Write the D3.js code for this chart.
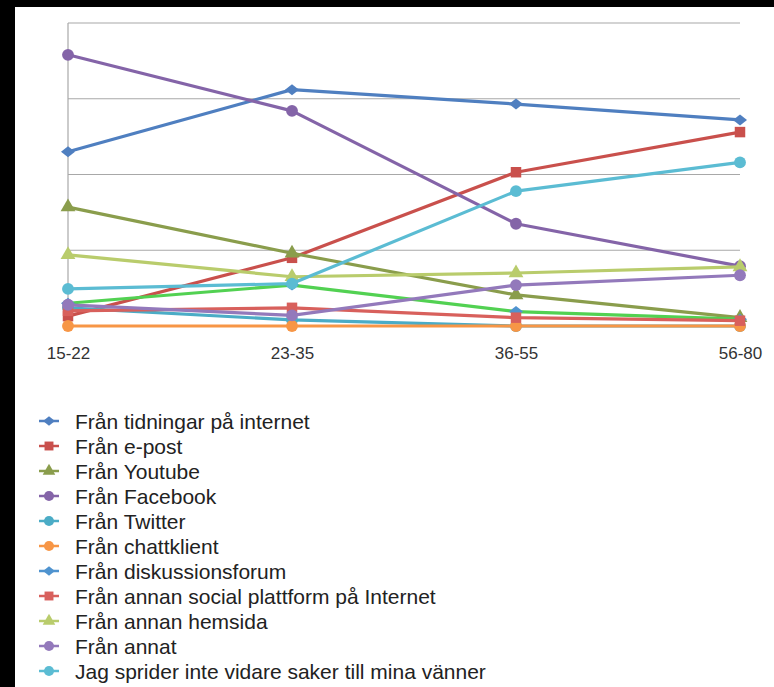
<!DOCTYPE html>
<html><head><meta charset="utf-8">
<script src="https://cdn.jsdelivr.net/npm/d3@7"></script>
<style>html,body{margin:0;padding:0;background:#000;}svg{display:block;}</style>
</head><body>
<script>
const categories = ["15-22", "23-35", "36-55", "56-80"];
const seriesNames = [
  "Från tidningar på internet",
  "Från e-post",
  "Från Youtube",
  "Från Facebook",
  "Från Twitter",
  "Från chattklient",
  "Från diskussionsforum",
  "Från annan social plattform på Internet",
  "Från annan hemsida",
  "Från annat",
  "Jag sprider inte vidare saker till mina vänner"
];
const tidningar   = [23.0, 31.2, 29.3, 27.2];
const epost       = [1.3, 9.0, 20.3, 25.6];
const youtube     = [15.7, 9.6, 4.1, 1.1];
const facebook    = [35.8, 28.4, 13.5, 7.9];
const twitter     = [2.4, 0.8, 0.0, 0.0];
const chattklient = [0.0, 0.0, 0.0, 0.0];
const diskforum   = [3.0, 5.4, 1.9, 0.9];
const annanSocial = [2.0, 2.4, 1.1, 0.7];
const annanHemsida= [9.4, 6.5, 7.0, 7.8];
const annat       = [2.8, 1.4, 5.4, 6.7];
const sprider     = [4.9, 5.6, 17.8, 21.6];
const yTicks = [0, 10, 20, 30, 40];

const seriesValues = [tidningar, epost, youtube, facebook, twitter, chattklient, diskforum, annanSocial, annanHemsida, annat, sprider];
const lineColors   = ["#4f7fc0","#c9504c","#8a9d4c","#8464a8","#4bacc6","#f79646","#52d152","#d8605c","#b9cc6c","#9379bb","#5bbcd3"];
const markerColors = ["#4f7fc0","#c9504c","#8a9d4c","#8464a8","#4bacc6","#f79646","#4f93cf","#d8605c","#b9cc6c","#9379bb","#5bbcd3"];
const shapes = ["diamond","square","triangle","circle","circle","circle","diamond","square","triangle","circle","circle"];

const W = 774, H = 687;
const svg = d3.select("body").append("svg").attr("width", W).attr("height", H);
svg.append("rect").attr("width", W).attr("height", H).attr("fill", "#000");
svg.append("rect").attr("x", 15).attr("y", 7).attr("width", W - 15).attr("height", H - 7).attr("fill", "#fff");

const x = d3.scalePoint().domain(categories).range([68, 740]).padding(0);
const y = d3.scaleLinear().domain([0, 40]).range([326, 23]);

// gridlines
svg.append("g").selectAll("line").data(yTicks).join("line")
  .attr("x1", 68).attr("x2", 740)
  .attr("y1", d => y(d)).attr("y2", d => y(d))
  .attr("stroke", "#a8a8a8").attr("stroke-width", 1.2);
svg.append("line").attr("x1", 68).attr("x2", 68).attr("y1", y(40)).attr("y2", y(0))
  .attr("stroke", "#a8a8a8").attr("stroke-width", 1.2);

// x axis labels
const xAxis = d3.axisBottom(x).tickSize(0).tickPadding(0);
const gx = svg.append("g").attr("transform", "translate(0,347)").call(xAxis);
gx.select(".domain").remove();
gx.selectAll("text").attr("font-family", "Liberation Sans, Arial, Helvetica, sans-serif")
  .attr("font-size", 17).attr("fill", "#333").attr("dy", "0.71em");

function symbolPath(shape) {
  if (shape === "diamond") return "M0,-5.5L7,0L0,5.5L-7,0Z";
  if (shape === "square") return d3.symbol(d3.symbolSquare, 110)();
  if (shape === "triangle") return d3.symbol(d3.symbolTriangle, 95)();
  return d3.symbol(d3.symbolCircle, 110)();
}

const line = d3.line().x((d, i) => x(categories[i])).y(d => y(d));
seriesValues.forEach((vals, s) => {
  const g = svg.append("g");
  g.append("path").attr("d", line(vals)).attr("fill", "none")
    .attr("stroke", lineColors[s]).attr("stroke-width", 3.2).attr("stroke-linejoin", "round");
  g.selectAll("path.m").data(vals).join("path").attr("class", "m")
    .attr("d", symbolPath(shapes[s]))
    .attr("transform", (d, i) => `translate(${x(categories[i])},${y(d)})`)
    .attr("fill", markerColors[s]);
});

// legend
const lg = svg.append("g");
seriesNames.forEach((name, i) => {
  const cy = 421 + i * 25;
  lg.append("line").attr("x1", 39).attr("x2", 59).attr("y1", cy).attr("y2", cy)
    .attr("stroke", markerColors[i]).attr("stroke-width", 2.5);
  lg.append("path").attr("d", symbolPath(shapes[i])).attr("transform", `translate(49,${cy}) scale(0.85)`)
    .attr("fill", markerColors[i]);
  lg.append("text").attr("x", 75).attr("y", cy).attr("dy", "0.36em")
    .attr("font-family", "Liberation Sans, Arial, Helvetica, sans-serif")
    .attr("font-size", 21).attr("fill", "#222").text(name);
});
</script>
</body></html>
